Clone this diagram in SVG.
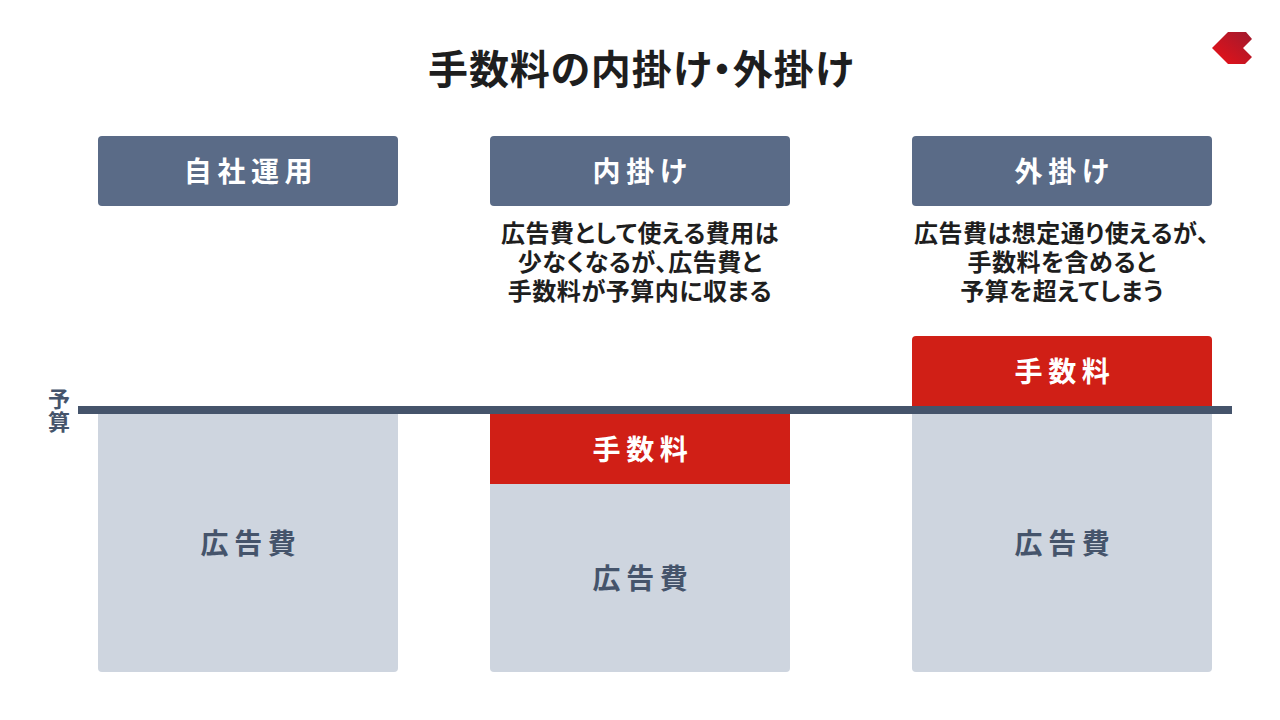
<svg xmlns="http://www.w3.org/2000/svg" width="1280" height="720" viewBox="0 0 1280 720">
<defs>
<linearGradient id="logo" x1="0" y1="1" x2="1" y2="0"><stop offset="0" stop-color="#f01018"/><stop offset="0.35" stop-color="#d0141f"/><stop offset="1" stop-color="#a01a2e"/></linearGradient>
</defs>
<style>
text{font-family:"Noto Sans CJK JP","Noto Sans",sans-serif;font-weight:700;text-anchor:middle}
.hd{fill:#5a6b87}
.rd{fill:#d01f16}
.gy{fill:#ced5df}
.lb{font-size:28px;letter-spacing:5.6px}
.w{fill:#fff}
.n{fill:#45546b}
.d{font-size:24px;fill:#1e1e1e;font-feature-settings:"palt";letter-spacing:.5px}
.t{font-size:40px;fill:#1e1e1e;font-feature-settings:"palt";letter-spacing:.85px}
</style>
<rect width="1280" height="720" fill="#fff"/>
<text id="title" class="t" x="641" y="84">手数料の内掛け・外掛け</text>
<path id="logo-mark" fill="url(#logo)" d="M1212 48L1228 32H1246L1252 39L1243 48L1252 57L1245 64H1228Z"/>
<g id="col1-header"><rect class="hd" x="98" y="136" width="300" height="70" rx="4"/><text class="lb w" x="251" y="182">自社運用</text></g>
<g id="col2-header"><rect class="hd" x="490" y="136" width="300" height="70" rx="4"/><text class="lb w" x="643" y="182">内掛け</text></g>
<g id="col3-header"><rect class="hd" x="912" y="136" width="300" height="70" rx="4"/><text class="lb w" x="1065" y="182">外掛け</text></g>
<g id="col2-desc"><text class="d" x="640" y="242">広告費として使える費用は</text><text class="d" x="640" y="271">少なくなるが､広告費と</text><text class="d" x="640" y="300">手数料が予算内に収まる</text></g>
<g id="col3-desc"><text class="d" x="1062" y="242">広告費は想定通り使えるが､</text><text class="d" x="1062" y="271">手数料を含めると</text><text class="d" x="1062" y="300">予算を超えてしまう</text></g>
<g id="col1-ad"><path class="gy" d="M98 410H398V668a4 4 0 0 1-4 4H102a4 4 0 0 1-4-4Z"/><text class="lb n" x="251" y="554">広告費</text></g>
<g id="col2-ad"><path class="gy" d="M490 484H790V668a4 4 0 0 1-4 4H494a4 4 0 0 1-4-4Z"/><text class="lb n" x="643" y="589">広告費</text></g>
<g id="col3-ad"><path class="gy" d="M912 410H1212V668a4 4 0 0 1-4 4H916a4 4 0 0 1-4-4Z"/><text class="lb n" x="1065" y="554">広告費</text></g>
<g id="col2-fee"><rect class="rd" x="490" y="410" width="300" height="74"/><text class="lb w" x="643" y="460">手数料</text></g>
<g id="col3-fee"><path class="rd" d="M912 410V340a4 4 0 0 1 4-4H1208a4 4 0 0 1 4 4V410Z"/><text class="lb w" x="1065" y="382">手数料</text></g>
<g id="budget-line"><rect x="78" y="406" width="1154" height="8" fill="#45546b"/></g>
<g id="budget-label"><text class="n" x="59" y="407" font-size="22">予</text><text class="n" x="59" y="430" font-size="22">算</text></g>
</svg>
